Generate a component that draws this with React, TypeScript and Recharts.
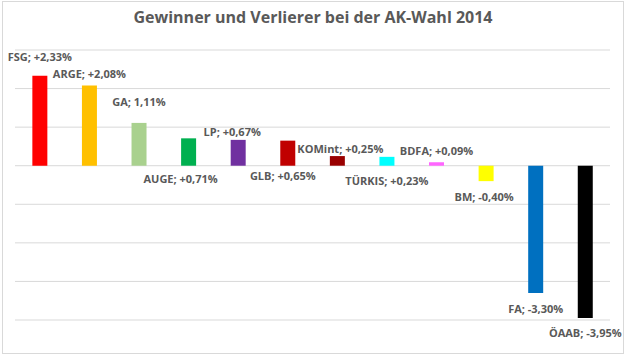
import { BarChart, Bar, XAxis, YAxis, CartesianGrid, Cell, LabelList } from "recharts";

const parties = ["FSG", "ARGE", "GA", "AUGE", "LP", "GLB", "KOMint", "TÜRKIS", "BDFA", "BM", "FA", "ÖAAB"];
const changes = [2.33, 2.08, 1.11, 0.71, 0.67, 0.65, 0.25, 0.23, 0.09, -0.4, -3.3, -3.95];
const labels = [
  "FSG; +2,33%",
  "ARGE; +2,08%",
  "GA; 1,11%",
  "AUGE; +0,71%",
  "LP; +0,67%",
  "GLB; +0,65%",
  "KOMint; +0,25%",
  "TÜRKIS; +0,23%",
  "BDFA; +0,09%",
  "BM; -0,40%",
  "FA; -3,30%",
  "ÖAAB; -3,95%",
];
const yTicks = [-4, -3, -2, -1, 0, 1, 2, 3];

const colors = ["#FF0000", "#FFC000", "#A9D18E", "#00B050", "#7030A0", "#C00000", "#990000", "#00FFFF", "#FF66FF", "#FFFF00", "#0070C0", "#000000"];

// label placement: from the bar end ("end") or from the zero line ("base"), pixel offsets
const labelPos: { from: "end" | "base"; dx: number; dy: number }[] = [
  { from: "end", dx: 0, dy: -19 },
  { from: "end", dx: 0, dy: -12 },
  { from: "end", dx: 0, dy: -21 },
  { from: "base", dx: -8, dy: 13 },
  { from: "end", dx: -6, dy: -8 },
  { from: "base", dx: -5, dy: 10 },
  { from: "end", dx: 3, dy: -8 },
  { from: "base", dx: 0, dy: 15 },
  { from: "end", dx: 0, dy: -12 },
  { from: "end", dx: -2, dy: 15 },
  { from: "end", dx: 0, dy: 15 },
  { from: "end", dx: 0, dy: 14 },
];

const data = parties.map((name, i) => ({ name, value: changes[i], label: labels[i] }));

const BarLabel = (props: any) => {
  const { x, y, width, height, index } = props;
  const top = Math.min(y, y + height);
  const bottom = Math.max(y, y + height);
  const positive = changes[index] >= 0;
  const end = positive ? top : bottom;
  const base = positive ? bottom : top;
  const p = labelPos[index];
  const ly = (p.from === "end" ? end : base) + p.dy;
  return (
    <text
      x={x + width / 2 + p.dx}
      y={ly}
      textAnchor="middle"
      dominantBaseline="central"
      fill="#595959"
      fontSize={11}
      fontWeight="bold"
      fontFamily="'Open Sans', sans-serif"
    >
      {labels[index]}
    </text>
  );
};

export default function App() {
  return (
    <div
      style={{
        position: "absolute",
        left: 0,
        top: 0,
        width: 626,
        height: 355,
        background: "#fff",
        fontFamily: "'Open Sans', sans-serif",
      }}
    >
      <div
        style={{
          position: "absolute",
          left: 2,
          top: 1,
          width: 620,
          height: 351,
          border: "1px solid #d9d9d9",
        }}
      />
      <div
        style={{
          position: "absolute",
          top: 6,
          left: 0,
          width: 626,
          textAlign: "center",
          fontSize: 16,
          fontWeight: "bold",
          color: "#595959",
        }}
      >
        Gewinner und Verlierer bei der AK-Wahl 2014
      </div>
      <BarChart
        width={626}
        height={355}
        data={data}
        margin={{ top: 50, right: 16, bottom: 35, left: 15 }}
        barCategoryGap="35%"
      >
        <CartesianGrid horizontal vertical={false} stroke="#d9d9d9" strokeWidth={1} />
        <XAxis dataKey="name" hide />
        <YAxis hide domain={[-4, 3]} ticks={yTicks} />
        <Bar dataKey="value" isAnimationActive={false}>
          {data.map((d, i) => (
            <Cell key={d.name} fill={colors[i]} />
          ))}
          <LabelList dataKey="label" content={<BarLabel />} />
        </Bar>
      </BarChart>
    </div>
  );
}
